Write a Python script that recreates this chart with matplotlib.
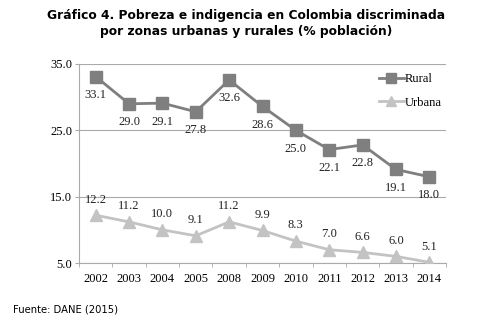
import matplotlib.pyplot as plt
import numpy as np

years = ['2002', '2003', '2004', '2005', '2008', '2009', '2010', '2011', '2012', '2013', '2014']
rural = [33.1, 29.0, 29.1, 27.8, 32.6, 28.6, 25.0, 22.1, 22.8, 19.1, 18.0]
urbana = [12.2, 11.2, 10.0, 9.1, 11.2, 9.9, 8.3, 7.0, 6.6, 6.0, 5.1]
yticks = [5.0, 15.0, 25.0, 35.0]

rural_color = '#7f7f7f'
urbana_color = '#c3c3c3'
serif = 'Liberation Serif'
fs = 9

fig = plt.figure(figsize=(4.8, 3.21), dpi=100)
ax = fig.add_axes([79 / 480, 1 - 263 / 321, (446 - 79) / 480, (263 - 64) / 321])

x = np.arange(len(years))
ax.plot(x, rural, color=rural_color, lw=2.0, marker='s', ms=8.5, label='Rural', zorder=3)
ax.plot(x, urbana, color=urbana_color, lw=2.0, marker='^', ms=9, label='Urbana', zorder=3)

for i, v in enumerate(rural):
    ax.annotate(f'{v:.1f}', (i, v), xytext=(0, -9), textcoords='offset points',
                ha='center', va='top', fontsize=fs, family=serif, color='#222222')
for i, v in enumerate(urbana):
    ax.annotate(f'{v:.1f}', (i, v), xytext=(0, 7), textcoords='offset points',
                ha='center', va='bottom', fontsize=fs, family=serif, color='#222222')

ax.set_xlim(-0.5, len(years) - 0.5)
ax.set_ylim(5, 35)
ax.set_yticks(yticks)
ax.set_yticklabels([f'{t:.1f}' for t in yticks], family=serif, fontsize=fs)
ax.set_xticks(x)
ax.set_xticklabels(years, family=serif, fontsize=fs)
ax.set_xticks(np.arange(len(years) + 1) - 0.5, minor=True)
ax.tick_params(axis='x', which='major', length=0, pad=7)
ax.tick_params(axis='x', which='minor', length=3, color='#aaaaaa')
ax.tick_params(axis='y', length=3, color='#aaaaaa', pad=2)
ax.grid(axis='y', color='#aaaaaa', lw=0.8)
ax.set_axisbelow(True)
for s in ['top', 'right']:
    ax.spines[s].set_visible(False)
for s in ['left', 'bottom']:
    ax.spines[s].set_color('#aaaaaa')

leg = ax.legend(loc='upper right', bbox_to_anchor=(1.02, 1.01), frameon=False,
                prop={'family': serif, 'size': fs}, handlelength=2.0,
                handletextpad=0.1, labelspacing=0.9, markerscale=0.8)

fig.text(0.512, 0.972, 'Gráfico 4. Pobreza e indigencia en Colombia discriminada\npor zonas urbanas y rurales (% población)',
         ha='center', va='top', fontsize=8.8, fontweight='bold', linespacing=1.3)
fig.text(13 / 480, 1 - 309 / 321, 'Fuente: DANE (2015)', ha='left', va='center', fontsize=7.2)

fig.savefig('out.png', dpi=100)
